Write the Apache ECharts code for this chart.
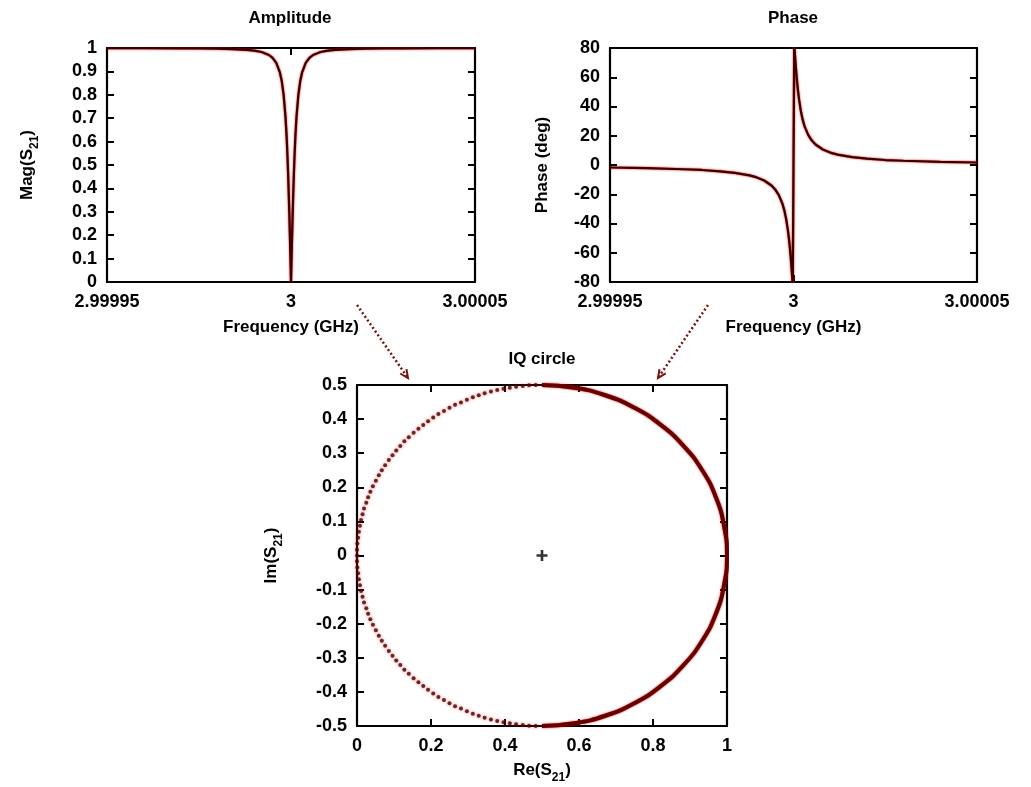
<html>
<head>
<meta charset="UTF-8">
<title>S21 resonance: amplitude, phase, IQ circle</title>
<script src="https://cdn.jsdelivr.net/npm/echarts@6/dist/echarts.min.js"></script>
<style>html,body{margin:0;padding:0;background:#fff;}#container{width:1031px;height:787px;}</style>
</head>
<body>
<div id="container"></div>
<script>
// frequency sweep (GHz), denser near the resonance at 3 GHz
var freqGHz = [2.99995, 2.99996, 2.99997, 2.999975, 2.99998, 2.999984, 2.999988, 2.99999, 2.999992, 2.999994,
  2.999995, 2.999996, 2.999997, 2.9999975, 2.999998, 2.9999985, 2.9999988, 2.999999, 2.9999992, 2.9999994,
  2.9999996, 2.9999998, 3.0, 3.0000002, 3.0000004, 3.0000006, 3.0000008, 3.000001, 3.0000012, 3.0000015,
  3.000002, 3.0000025, 3.000003, 3.000004, 3.000005, 3.000006, 3.000008, 3.00001, 3.000012, 3.000016,
  3.00002, 3.000025, 3.00003, 3.00004, 3.00005];

var magS21 = [0.9996, 0.9993, 0.9988, 0.9982, 0.9972, 0.9956, 0.9923, 0.9889, 0.9829, 0.9701,
  0.9578, 0.9363, 0.8944, 0.8575, 0.8, 0.7071, 0.6247, 0.5547, 0.4706, 0.3714,
  0.2577, 0.1321, 0, 0.1321, 0.2577, 0.3714, 0.4706, 0.5547, 0.6247, 0.7071,
  0.8, 0.8575, 0.8944, 0.9363, 0.9578, 0.9701, 0.9829, 0.9889, 0.9923, 0.9956,
  0.9972, 0.9982, 0.9988, 0.9993, 0.9996];

var phaseDeg = [-1.7, -2.2, -2.9, -3.4, -4.3, -5.4, -7.1, -8.5, -10.6, -14.0,
  -16.7, -20.6, -26.6, -31.0, -36.9, -45.0, -51.3, -56.3, -61.9, -68.2,
  -75.1, -82.4, 0, 82.4, 75.1, 68.2, 61.9, 56.3, 51.3, 45.0,
  36.9, 31.0, 26.6, 20.6, 16.7, 14.0, 10.6, 8.5, 7.1, 5.4,
  4.3, 3.4, 2.9, 2.2, 1.7];

// separate sample dots on the left half of the IQ circle
var iqDotsRe = [0.483, 0.465, 0.448, 0.430, 0.413, 0.396, 0.379, 0.362, 0.345, 0.329, 0.313, 0.297, 0.281, 0.265, 0.250,
  0.235, 0.220, 0.206, 0.192, 0.179, 0.166, 0.153, 0.140, 0.128, 0.117, 0.106, 0.096, 0.086, 0.076, 0.067,
  0.059, 0.051, 0.043, 0.036, 0.030, 0.025, 0.019, 0.015, 0.011, 0.008, 0.005, 0.003, 0.001, 0.000, 0.000,
  0.000, 0.001, 0.003, 0.005, 0.008, 0.011, 0.015, 0.019, 0.025, 0.030, 0.036, 0.043, 0.051, 0.059, 0.067,
  0.076, 0.086, 0.096, 0.106, 0.117, 0.128, 0.140, 0.153, 0.166, 0.179, 0.192, 0.206, 0.220, 0.235, 0.250,
  0.265, 0.281, 0.297, 0.313, 0.329, 0.345, 0.362, 0.379, 0.396, 0.413, 0.430, 0.448, 0.465, 0.483];
var iqDotsIm = [0.500, 0.499, 0.497, 0.495, 0.492, 0.489, 0.485, 0.481, 0.476, 0.470, 0.464, 0.457, 0.449, 0.442, 0.433,
  0.424, 0.415, 0.405, 0.394, 0.383, 0.372, 0.360, 0.347, 0.335, 0.321, 0.308, 0.294, 0.280, 0.265, 0.250,
  0.235, 0.219, 0.203, 0.187, 0.171, 0.155, 0.138, 0.121, 0.104, 0.087, 0.070, 0.052, 0.035, 0.017, 0.000,
  -0.017, -0.035, -0.052, -0.070, -0.087, -0.104, -0.121, -0.138, -0.155, -0.171, -0.187, -0.203, -0.219, -0.235, -0.250,
  -0.265, -0.280, -0.294, -0.308, -0.321, -0.335, -0.347, -0.360, -0.372, -0.383, -0.394, -0.405, -0.415, -0.424, -0.433,
  -0.442, -0.449, -0.457, -0.464, -0.470, -0.476, -0.481, -0.485, -0.489, -0.492, -0.495, -0.497, -0.499, -0.500];

// right half, where the samples merge into a solid arc
var iqArcRe = [0.5, 0.587, 0.671, 0.75, 0.821, 0.883, 0.933, 0.970, 0.992, 1.0, 0.992, 0.970, 0.933, 0.883, 0.821, 0.75, 0.671, 0.587, 0.5];
var iqArcIm = [0.5, 0.492, 0.470, 0.433, 0.383, 0.321, 0.25, 0.171, 0.087, 0, -0.087, -0.171, -0.25, -0.321, -0.383, -0.433, -0.470, -0.492, -0.5];

var iqCenter = [0.5, 0];

var FONT = '"Liberation Sans", Arial, sans-serif';
var lbl = {color: '#000', fontFamily: FONT, fontWeight: 'bold', fontSize: 18};
var nameStyle = {
  color: '#000', fontFamily: FONT, fontWeight: 'bold', fontSize: 17,
  rich: {s: {fontFamily: FONT, fontWeight: 'bold', fontSize: 12, verticalAlign: 'bottom', lineHeight: 12, padding: [0, 0, -5, 0]}}
};
function border() { return {show: true, onZero: false, lineStyle: {color: '#000', width: 2.2}}; }
function tick() { return {show: true, inside: true, length: 7, lineStyle: {color: '#000', width: 2}}; }

function fmtFreq(v) { return String(Math.round(v * 1e5) / 1e5); }

function xPair(grid, min, max, interval, name, gap, fmt) {
  return [
    {type: 'value', gridIndex: grid, position: 'bottom', min: min, max: max, interval: interval,
      axisLine: border(), axisTick: tick(), splitLine: {show: false},
      axisLabel: Object.assign({margin: 11, showMinLabel: true, showMaxLabel: true, formatter: fmt}, lbl),
      name: name, nameLocation: 'middle', nameGap: gap, nameTextStyle: nameStyle},
    {type: 'value', gridIndex: grid, position: 'top', min: min, max: max, interval: interval,
      axisLine: border(), axisTick: tick(), splitLine: {show: false}, axisLabel: {show: false}}
  ];
}
function yPair(grid, min, max, interval, name, gap) {
  return [
    {type: 'value', gridIndex: grid, position: 'left', min: min, max: max, interval: interval,
      axisLine: border(), axisTick: tick(), splitLine: {show: false},
      axisLabel: Object.assign({margin: 10, showMinLabel: true, showMaxLabel: true}, lbl),
      name: name, nameLocation: 'middle', nameGap: gap, nameRotate: 90, nameTextStyle: nameStyle},
    {type: 'value', gridIndex: grid, position: 'right', min: min, max: max, interval: interval,
      axisLine: border(), axisTick: tick(), splitLine: {show: false}, axisLabel: {show: false}}
  ];
}

var curveStyle = {color: '#3a0000', width: 2.2, shadowColor: '#e00000', shadowBlur: 2};

function arrow(x1, y1, x2, y2, w1, w2) {
  var st = {stroke: '#7a1010', lineWidth: 2.5, lineDash: [2, 2.5]};
  return [
    {type: 'line', shape: {x1: x1, y1: y1, x2: x2, y2: y2}, style: st, z: 10},
    {type: 'polyline', shape: {points: [w1, [x2, y2], w2]}, style: {stroke: '#7a1010', lineWidth: 2, fill: null}, z: 10}
  ];
}
function title(text, x, y) {
  return {type: 'text', x: x, y: y, z: 10,
    style: {text: text, fill: '#000', font: 'bold 17px ' + FONT, align: 'center', verticalAlign: 'middle'}};
}

var chart = echarts.init(document.getElementById('container'));
chart.setOption({
  backgroundColor: '#fff',
  animation: false,
  grid: [
    {left: 107, top: 48, width: 368, height: 234},
    {left: 610, top: 48, width: 367, height: 234},
    {left: 357, top: 385, width: 370, height: 341}
  ],
  xAxis: [].concat(
    xPair(0, 2.99995, 3.00005, 0.00005, 'Frequency (GHz)', 37, fmtFreq),
    xPair(1, 2.99995, 3.00005, 0.00005, 'Frequency (GHz)', 37, fmtFreq),
    xPair(2, 0, 1, 0.2, 'Re(S{s|21})', 36, null)
  ),
  yAxis: [].concat(
    yPair(0, 0, 1, 0.1, 'Mag(S{s|21})', 71),
    yPair(1, -80, 80, 20, 'Phase (deg)', 59),
    yPair(2, -0.5, 0.5, 0.1, 'Im(S{s|21})', 77)
  ),
  series: [
    {type: 'line', xAxisIndex: 0, yAxisIndex: 0, symbol: 'none', lineStyle: curveStyle, clip: true,
      data: freqGHz.map(function (f, i) { return [f, magS21[i]]; })},
    {type: 'line', xAxisIndex: 2, yAxisIndex: 2, symbol: 'none', lineStyle: curveStyle, clip: true,
      data: freqGHz.map(function (f, i) { return [f, phaseDeg[i]]; })},
    {type: 'line', xAxisIndex: 4, yAxisIndex: 4, symbol: 'none', smooth: true, clip: false,
      lineStyle: {color: '#640202', width: 4, shadowColor: '#e80000', shadowBlur: 2},
      data: iqArcRe.map(function (r, i) { return [r, iqArcIm[i]]; })},
    {type: 'scatter', xAxisIndex: 4, yAxisIndex: 4, symbol: 'circle', symbolSize: 4, clip: false,
      itemStyle: {color: '#3a0606', shadowColor: 'rgba(255,30,30,0.8)', shadowBlur: 3},
      data: iqDotsRe.map(function (r, i) { return [r, iqDotsIm[i]]; })},
    {type: 'scatter', xAxisIndex: 4, yAxisIndex: 4, symbolSize: 11,
      symbol: 'path://M3.8,0 L6.2,0 L6.2,3.8 L10,3.8 L10,6.2 L6.2,6.2 L6.2,10 L3.8,10 L3.8,6.2 L0,6.2 L0,3.8 L3.8,3.8 Z',
      itemStyle: {color: '#000'}, data: [iqCenter]}
  ],
  graphic: [
    title('Amplitude', 290, 18),
    title('Phase', 793, 18),
    title('IQ circle', 542, 359)
  ].concat(
    arrow(357, 305, 408, 378, [406.5, 369.1], [400.2, 373.5]),
    arrow(708, 305, 658, 378, [665.7, 373.4], [659.5, 369.1])
  )
});
</script>
</body>
</html>
